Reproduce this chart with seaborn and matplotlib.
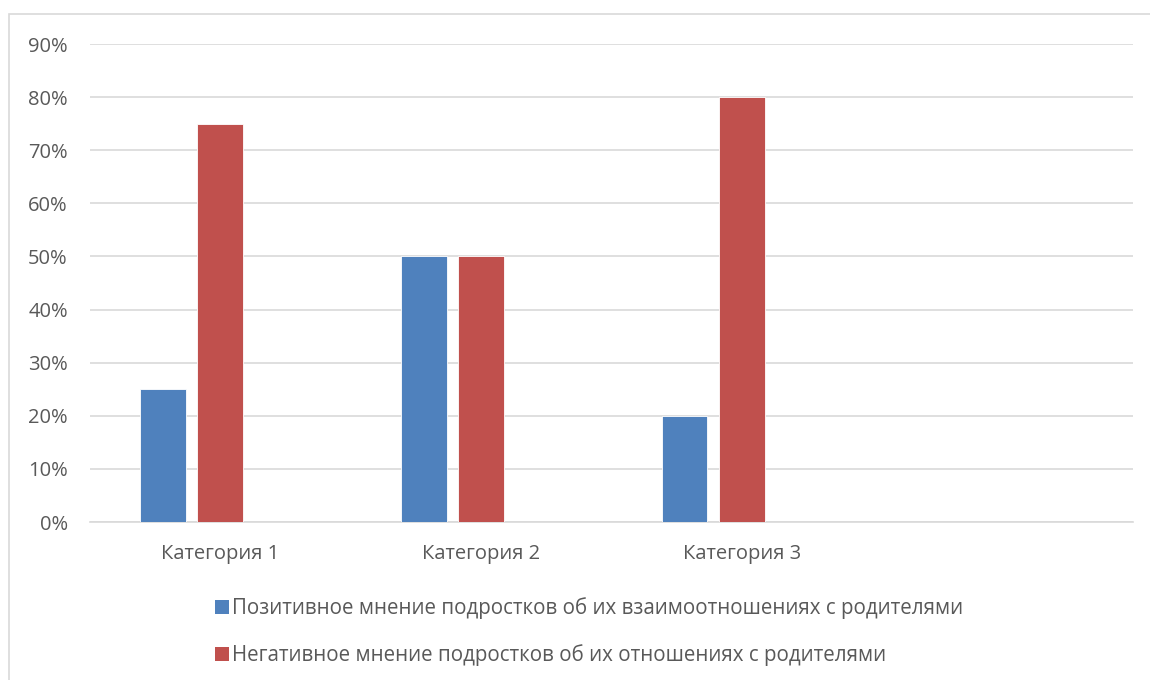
import pandas as pd
import matplotlib.pyplot as plt
import seaborn as sns
from matplotlib.patches import Patch, Rectangle

categories = ["Категория 1", "Категория 2", "Категория 3"]
positive = [0.25, 0.50, 0.20]
negative = [0.75, 0.50, 0.80]
series_names = [
    "Позитивное мнение подростков об их взаимоотношениях с родителями",
    "Негативное мнение подростков об их отношениях с родителями",
]
yticks = [0.0, 0.1, 0.2, 0.3, 0.4, 0.5, 0.6, 0.7, 0.8, 0.9]

sns.set_theme(style="white")
plt.rcParams['font.family'] = ['Open Sans', 'DejaVu Sans']

text_color = "#595959"
grid_color = "#d9d9d9"
colors = {series_names[0]: "#4f81bd", series_names[1]: "#c0504d", " ": "#ffffff"}

df = pd.DataFrame({
    "category": categories * 2,
    "value": positive + negative,
    "series": [series_names[0]] * 3 + [series_names[1]] * 3,
})

fig = plt.figure(figsize=(11.5, 6.8), dpi=100)
ax = fig.add_axes([90 / 1150, 1 - 522 / 680, (1133 - 90) / 1150, (522 - 44) / 680])

# empty 4th category and empty 3rd series slot, as in the original Excel chart
sns.barplot(data=df, x="category", y="value", hue="series",
            order=categories + [""], hue_order=series_names + [" "],
            palette=colors, saturation=1, width=0.66, gap=0.2, legend=False,
            edgecolor="white", linewidth=0.6, ax=ax, zorder=3)

ax.set_ylim(0, 0.9)
ax.set_xlim(-0.5, 3.5)
ax.set_yticks(yticks)
ax.set_yticklabels([f"{int(round(v * 100))}%" for v in yticks])
ax.yaxis.grid(True, color=grid_color, linewidth=1.2, zorder=0)
ax.set_axisbelow(True)
ax.set_xlabel("")
ax.set_ylabel("")
for side in ["top", "right", "left"]:
    ax.spines[side].set_visible(False)
ax.spines["bottom"].set_color(grid_color)
ax.spines["bottom"].set_linewidth(1.2)
ax.tick_params(axis="both", length=0, labelsize=14.5, colors=text_color)
ax.tick_params(axis="y", pad=16)
ax.tick_params(axis="x", pad=16)

handles = [Patch(facecolor=colors[n], edgecolor="none") for n in series_names]
fig.legend(handles, series_names, loc="upper left",
           bbox_to_anchor=(196 / 1150, 1 - 579 / 680), frameon=False,
           fontsize=14.8, labelcolor=text_color, handlelength=0.7,
           handleheight=0.7, handletextpad=0.15, labelspacing=1.2)

# chart area frame
fig.patches.append(Rectangle((9 / 1150, -0.1), 1.2, 1.1 - 14 / 680,
                             transform=fig.transFigure, fill=False,
                             edgecolor=grid_color, linewidth=1.2))

plt.savefig("out.png", dpi=100)
plt.close()
